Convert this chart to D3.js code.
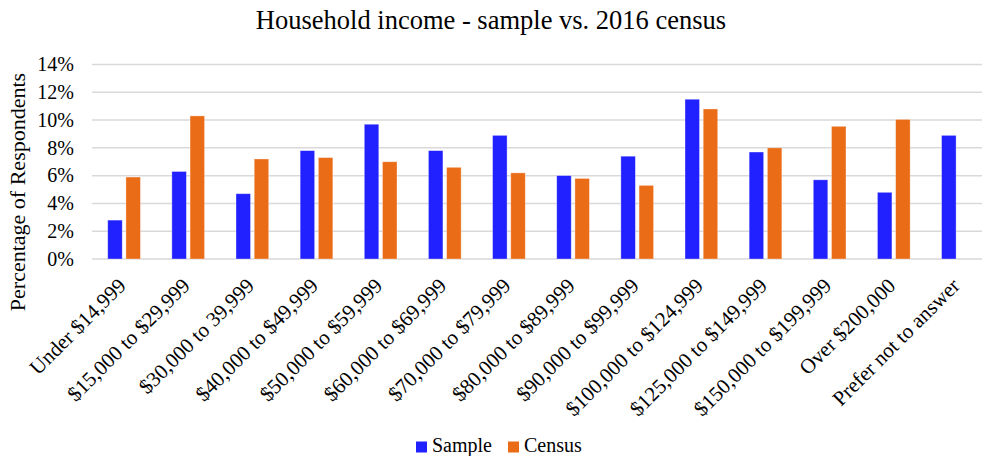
<!DOCTYPE html>
<html>
<head>
<meta charset="utf-8">
<script src="https://cdn.jsdelivr.net/npm/d3@7"></script>
<style>
  html, body { margin: 0; padding: 0; background: #fff; }
</style>
</head>
<body>
<svg id="chart" width="982" height="456"></svg>
<script>
const categories = [
  "Under $14,999", "$15,000 to $29,999", "$30,000 to 39,999", "$40,000 to $49,999",
  "$50,000 to $59,999", "$60,000 to $69,999", "$70,000 to $79,999", "$80,000 to $89,999",
  "$90,000 to $99,999", "$100,000 to $124,999", "$125,000 to $149,999", "$150,000 to $199,999",
  "Over $200,000", "Prefer not to answer"
];
const sampleValues = [2.8, 6.3, 4.7, 7.8, 9.7, 7.8, 8.9, 6.0, 7.4, 11.5, 7.7, 5.7, 4.8, 8.9];
const censusValues = [5.9, 10.3, 7.2, 7.3, 7.0, 6.6, 6.2, 5.8, 5.3, 10.8, 8.0, 9.55, 10.05, null];
const seriesNames = ["Sample", "Census"];
const yTicks = [0, 2, 4, 6, 8, 10, 12, 14];
const colors = ["#2121FF", "#EB6C17"];

const FONT = "'Liberation Serif', 'Times New Roman', Times, serif";
const svg = d3.select("#chart");
const x0 = 92, x1 = 990, yTop = 64.5, yBottom = 259;

const x = d3.scaleBand().domain(categories).range([x0, x1]).paddingInner(0).paddingOuter(0);
const y = d3.scaleLinear().domain([0, 14]).range([yBottom, yTop]);
const barW = 14.5, gap = 3.7;

// gridlines
svg.append("g").selectAll("line").data(yTicks).join("line")
  .attr("x1", x0).attr("x2", x1)
  .attr("y1", d => y(d)).attr("y2", d => y(d))
  .attr("stroke", "#d9d9d9").attr("stroke-width", 1.5);

// y tick labels
svg.append("g").selectAll("text").data(yTicks).join("text")
  .attr("x", 74).attr("y", d => y(d)).attr("dy", "0.34em")
  .attr("text-anchor", "end").style("font-family", FONT).style("font-size", "20px")
  .text(d => d + "%");

// bars
const series = [sampleValues, censusValues];
series.forEach((vals, si) => {
  svg.append("g").selectAll("rect")
    .data(categories.map((c, i) => ({c, v: vals[i]})).filter(d => d.v != null))
    .join("rect")
    .attr("x", d => x(d.c) + x.bandwidth() / 2 + (si === 0 ? -gap / 2 - barW : gap / 2))
    .attr("width", barW)
    .attr("y", d => y(d.v))
    .attr("height", d => y(0) - y(d.v))
    .attr("fill", colors[si])
    .attr("stroke", "#ffffff").attr("stroke-opacity", 0.45).attr("stroke-width", 0.75);
});

// x labels
svg.append("g").selectAll("text").data(categories).join("text")
  .attr("transform", d => `translate(${x(d) + x.bandwidth() / 2 + 3},${287}) rotate(-45)`)
  .attr("text-anchor", "end").style("font-family", FONT).style("font-size", "21px")
  .text(d => d);

// title
svg.append("text").attr("x", 491).attr("y", 29).attr("text-anchor", "middle")
  .style("font-family", FONT).style("font-size", "26.5px")
  .text("Household income - sample vs. 2016 census");

// y axis title
svg.append("text").attr("transform", "translate(25,192) rotate(-90)")
  .attr("text-anchor", "middle").style("font-family", FONT).style("font-size", "22px")
  .text("Percentage of Respondents");

// legend
const legend = svg.append("g");
const legendX = [416, 508];
seriesNames.forEach((name, i) => {
  legend.append("rect").attr("x", legendX[i]).attr("y", 441.5).attr("width", 11).attr("height", 11).attr("fill", colors[i]);
  legend.append("text").attr("x", legendX[i] + 16).attr("y", 452)
    .style("font-family", FONT).style("font-size", "20px").text(name);
});
</script>
</body>
</html>
